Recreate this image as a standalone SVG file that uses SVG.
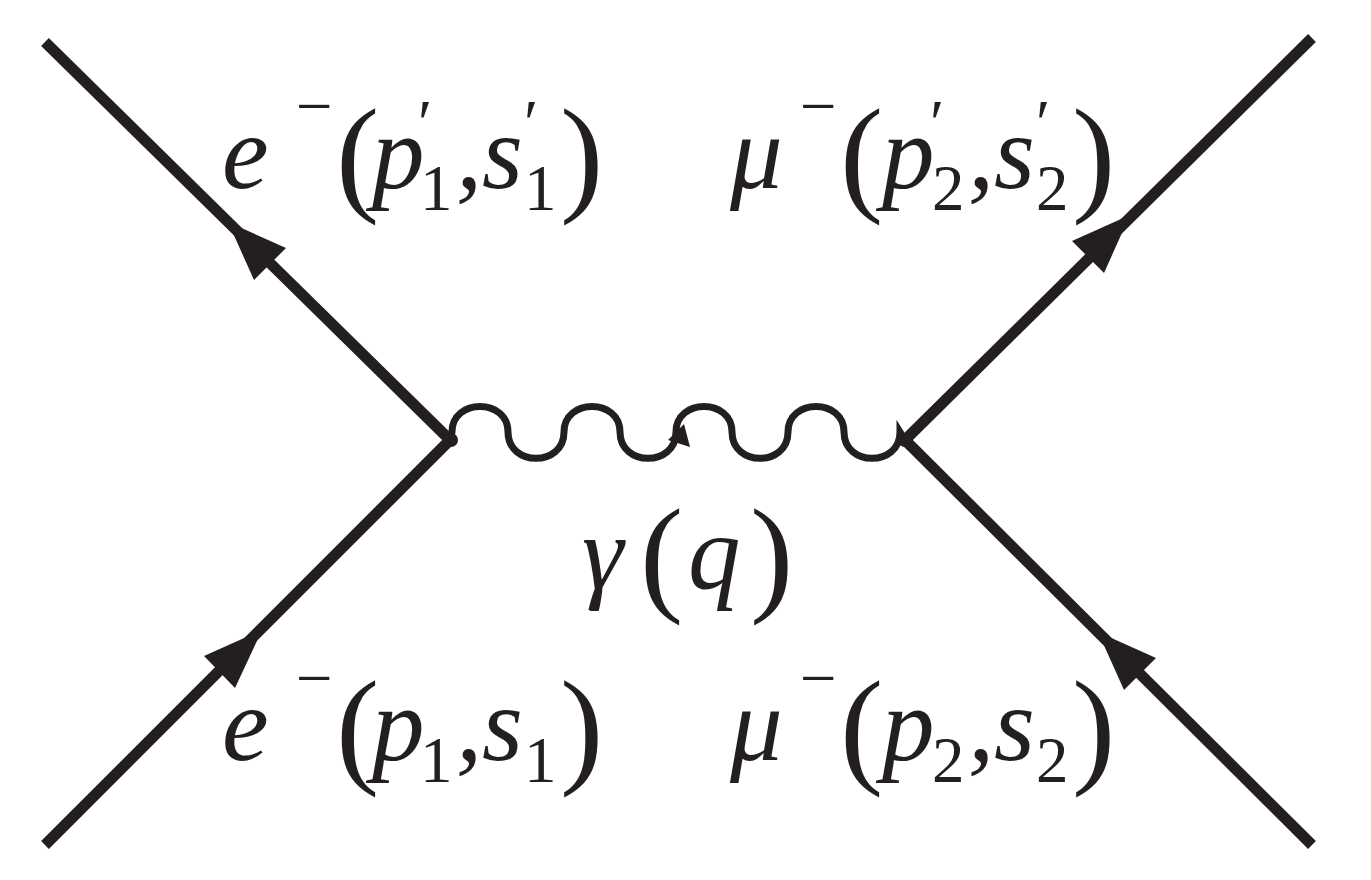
<svg xmlns="http://www.w3.org/2000/svg" width="1371" height="880" viewBox="0 0 1371 880">
<style>
.f{stroke:#231f20;stroke-width:11;fill:none}
.a{fill:#231f20}
.t{font-family:"Liberation Serif","DejaVu Serif","Times New Roman",serif;fill:#231f20}
.i{font-style:italic;font-size:105px}
.p{font-size:130px}
.s{font-size:65px}
</style>
<rect width="1371" height="880" fill="#fff"/>
<g id="connectors">
<line class="f" x1="45" y1="42" x2="450" y2="440"/>
<line class="f" x1="45" y1="845" x2="450" y2="440"/>
<line class="f" x1="1312" y1="38" x2="905" y2="440"/>
<line class="f" x1="1312" y1="845" x2="905" y2="440"/>
<path d="M450,440 L452,432 C452,398 508,398 508,432 C508,467 564,467 564,432 C564,398 620,398 620,432 C620,467 676,467 676,432 C676,398 732,398 732,432 C732,467 788,467 788,432 C788,398 844,398 844,432 C844,467 900,467 900,432 L905,440" style="stroke:#231f20;stroke-width:7;fill:none"/>
<polygon class="a" points="228,222 286,248 254,280"/>
<polygon class="a" points="262,630 235,688 204,656"/>
<polygon class="a" points="1130,215 1104,273 1072,241"/>
<polygon class="a" points="1098,632 1156,658 1124,690"/>
<polygon class="a" points="684,424 690,447 668,440"/>
<circle class="a" cx="451" cy="440" r="7"/>
<circle class="a" cx="905" cy="440" r="7"/>
</g>
<g id="e_out" class="t">
<text class="i" x="222" y="188">e</text><text class="s" x="296" y="128">−</text>
<text class="p" x="336" y="198">(</text><text class="i" x="372" y="188">p</text><text class="s" x="418" y="145">′</text><text class="s" x="420" y="210">1</text>
<text class="i" x="456" y="188">,</text><text class="i" x="482" y="188">s</text><text class="s" x="524" y="145">′</text><text class="s" x="524" y="210">1</text>
<text class="p" x="560" y="198">)</text>
</g>
<g id="mu_out" class="t">
<text class="i" x="730" y="188">μ</text><text class="s" x="800" y="128">−</text>
<text class="p" x="840" y="198">(</text><text class="i" x="882" y="188">p</text><text class="s" x="930" y="145">′</text><text class="s" x="932" y="210">2</text>
<text class="i" x="968" y="188">,</text><text class="i" x="994" y="188">s</text><text class="s" x="1036" y="145">′</text><text class="s" x="1036" y="210">2</text>
<text class="p" x="1072" y="198">)</text>
</g>
<g id="gamma" class="t">
<text class="i" x="582" y="588">γ</text>
<text class="p" x="640" y="598">(</text><text class="i" x="688" y="588">q</text><text class="p" x="750" y="598">)</text>
</g>
<g id="e_in" class="t">
<text class="i" x="222" y="760">e</text><text class="s" x="296" y="700">−</text>
<text class="p" x="336" y="770">(</text><text class="i" x="372" y="760">p</text><text class="s" x="420" y="782">1</text>
<text class="i" x="456" y="760">,</text><text class="i" x="482" y="760">s</text><text class="s" x="524" y="782">1</text>
<text class="p" x="560" y="770">)</text>
</g>
<g id="mu_in" class="t">
<text class="i" x="730" y="760">μ</text><text class="s" x="800" y="700">−</text>
<text class="p" x="840" y="770">(</text><text class="i" x="882" y="760">p</text><text class="s" x="932" y="782">2</text>
<text class="i" x="968" y="760">,</text><text class="i" x="994" y="760">s</text><text class="s" x="1036" y="782">2</text>
<text class="p" x="1072" y="770">)</text>
</g>
</svg>
